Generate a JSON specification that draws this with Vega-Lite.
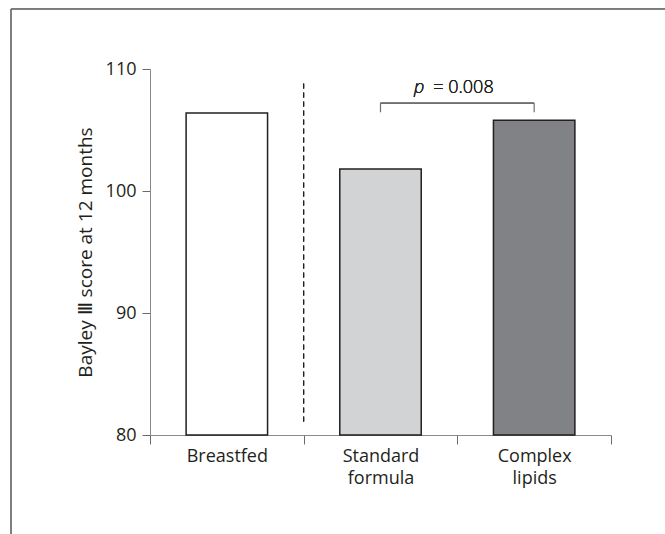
{
  "$schema": "https://vega.github.io/schema/vega-lite/v6.json",
  "width": 461,
  "height": 366,
  "padding": {"left": 10, "top": 8, "right": 0, "bottom": 0},
  "background": "white",
  "config": {"view": {"stroke": null}, "font": "Open Sans", "text": {"font": "Open Sans"}},
  "data": {"values": [
    {"group": "Breastfed", "score": 106.4},
    {"group": "Standard formula", "score": 101.8},
    {"group": "Complex lipids", "score": 105.8}
  ]},
  "resolve": {"scale": {"x": "independent"}, "axis": {"x": "independent"}},
  "layer": [
    {
      "layer": [
        {
          "mark": {"type": "rule", "color": "#6d6d6d", "strokeWidth": 1},
          "encoding": {
            "x": {"datum": -30.15, "type": "quantitative", "scale": {"domain": [0, 100], "nice": false, "zero": false}, "axis": null},
            "x2": {"datum": 115},
            "y": {"datum": 114.92, "type": "quantitative", "scale": {"domain": [80, 110], "nice": false, "zero": false}}
          }
        },
        {
          "mark": {"type": "rule", "color": "#6d6d6d", "strokeWidth": 1},
          "encoding": {
            "x": {"datum": -30.15, "type": "quantitative", "scale": {"domain": [0, 100], "nice": false, "zero": false}, "axis": null},
            "y": {"datum": 114.92, "type": "quantitative", "scale": {"domain": [80, 110], "nice": false, "zero": false}},
            "y2": {"datum": 70}
          }
        }
      ]
    },
    {
      "layer": [
        {
          "mark": {"type": "bar", "width": {"band": 0.53}, "stroke": "#231f20", "strokeWidth": 1.5},
          "encoding": {
            "x": {
              "field": "group", "type": "nominal", "sort": null,
              "scale": {"domain": ["Breastfed", "Standard formula", "Complex lipids"], "paddingInner": 0, "paddingOuter": 0},
              "axis": {
                "title": null, "labelAngle": 0, "tickBand": "extent", "tickSize": 9, "labelPadding": 3,
                "labelFontSize": 18, "labelColor": "#231f20", "labelExpr": "split(datum.label, ' ')",
                "labelLineHeight": 22, "domainColor": "#8a8a8a", "tickColor": "#6a6a6a", "grid": false
              }
            },
            "y": {
              "field": "score", "type": "quantitative",
              "scale": {"domain": [80, 110], "nice": false, "zero": false},
              "axis": {
                "title": "Bayley Ⅲ score at 12 months", "values": [80, 90, 100, 110], "tickSize": 8,
                "labelPadding": 6, "labelFontSize": 18, "labelColor": "#231f20", "titleFontSize": 19,
                "titleFontWeight": "normal", "titleColor": "#231f20", "titlePadding": 10, "grid": false,
                "domainColor": "#8a8a8a", "tickColor": "#6a6a6a"
              }
            },
            "y2": {"datum": 80},
            "color": {
              "field": "group", "type": "nominal",
              "scale": {"domain": ["Breastfed", "Standard formula", "Complex lipids"], "range": ["#ffffff", "#d1d3d4", "#808285"]},
              "legend": null
            }
          }
        },
        {
          "mark": {"type": "rule", "color": "#231f20", "strokeWidth": 1, "strokeDash": [5, 4]},
          "encoding": {
            "x": {"datum": "Standard formula", "type": "nominal", "bandPosition": 0},
            "y": {"datum": 81.1, "type": "quantitative"},
            "y2": {"datum": 108.9}
          }
        },
        {
          "mark": {"type": "rule", "color": "#6d6e71", "strokeWidth": 1.2},
          "encoding": {
            "x": {"datum": "Standard formula", "type": "nominal", "bandPosition": 0.5},
            "x2": {"datum": "Complex lipids", "bandPosition": 0.5},
            "y": {"datum": 107.2, "type": "quantitative"}
          }
        },
        {
          "transform": [{"filter": "datum.group !== 'Breastfed'"}],
          "mark": {"type": "rule", "color": "#6d6e71", "strokeWidth": 1.2},
          "encoding": {
            "x": {"field": "group", "type": "nominal", "sort": null},
            "y": {"datum": 106.45, "type": "quantitative"},
            "y2": {"datum": 107.2}
          }
        },
        {
          "mark": {"type": "text", "font": "Open Sans", "fontSize": 18, "fontStyle": "italic", "fontWeight": 300, "align": "right", "baseline": "alphabetic", "dx": -33, "color": "#231f20"},
          "encoding": {
            "x": {"datum": "Complex lipids", "type": "nominal", "bandPosition": 0},
            "y": {"datum": 108.0, "type": "quantitative"},
            "text": {"value": "p"}
          }
        },
        {
          "mark": {"type": "text", "font": "Open Sans", "fontSize": 18, "fontWeight": 300, "align": "left", "baseline": "alphabetic", "dx": -24, "color": "#231f20"},
          "encoding": {
            "x": {"datum": "Complex lipids", "type": "nominal", "bandPosition": 0},
            "y": {"datum": 108.0, "type": "quantitative"},
            "text": {"value": "= 0.008"}
          }
        }
      ]
    }
  ]
}
